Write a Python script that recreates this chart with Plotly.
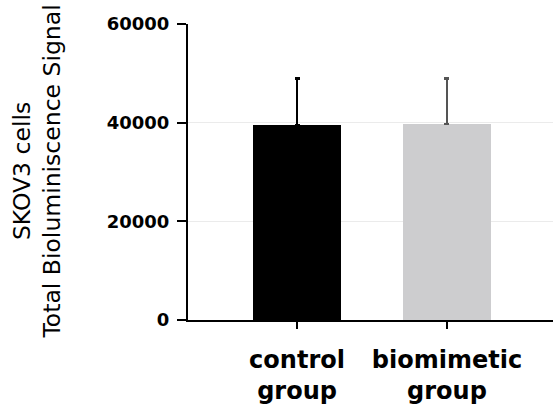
import plotly.graph_objects as go

categories = ["control group", "biomimetic group"]
tick_labels = ["control<br>group", "biomimetic<br>group"]
values = [39500, 39700]
errors = [9500, 9300]
bar_colors = ["#000000", "#cdcdcf"]
err_colors = ["#000000", "#555555"]
y_ticks = [0, 20000, 40000, 60000]

fig = go.Figure()
for i, c in enumerate(categories):
    fig.add_trace(go.Bar(
        x=[c], y=[values[i]], width=0.59,
        marker=dict(color=bar_colors[i], line=dict(width=0)),
        error_y=dict(type="data", array=[errors[i]], arrayminus=[0], symmetric=False,
                     color=err_colors[i], thickness=2.5, width=2.5),
        showlegend=False,
    ))

fig.update_layout(
    width=553, height=414,
    margin=dict(l=188, r=0, t=24, b=94, autoexpand=False),
    plot_bgcolor="white", paper_bgcolor="white",
    bargap=0,
)
fig.update_xaxes(
    automargin=False,
    categoryorder="array", categoryarray=categories,
    tickvals=categories, ticktext=tick_labels,
    range=[-0.727, 1.707],
    showline=True, linecolor="black", linewidth=2,
    ticks="outside", ticklen=7, tickwidth=2, tickcolor="black",
    tickfont=dict(family="DejaVu Sans", size=24, color="black", weight="bold"),
    ticklabelstandoff=10,
    showgrid=False, zeroline=False,
)
fig.update_yaxes(
    automargin=False,
    range=[0, 60000], tickvals=y_ticks, ticktext=[str(v) for v in y_ticks],
    showline=True, linecolor="black", linewidth=2,
    ticks="outside", ticklen=9, tickwidth=2, tickcolor="black",
    tickfont=dict(family="DejaVu Sans", size=18, color="black", weight="bold"),
    ticklabelstandoff=4,
    showgrid=True, gridcolor="#ebebeb", gridwidth=1, zeroline=False,
)
fig.add_annotation(
    text="SKOV3 cells<br>Total Bioluminiscence Signal",
    xref="paper", yref="paper", x=-0.415, y=0.5,
    xanchor="center", yanchor="middle", textangle=-90, showarrow=False,
    font=dict(family="DejaVu Sans", size=23.5, color="black"),
)
fig.write_html("out.html", config={"displayModeBar": False},
               post_script="document.body.style.margin='0';")
